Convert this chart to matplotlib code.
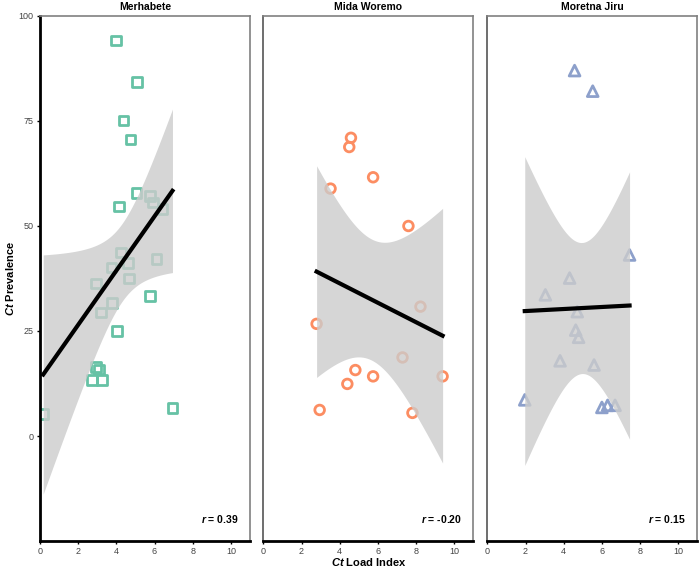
import numpy as np
import matplotlib
matplotlib.use("Agg")
import matplotlib.pyplot as plt

plt.rcParams['font.family'] = ['Liberation Sans', 'DejaVu Sans']
plt.rcParams['mathtext.fontset'] = 'custom'
plt.rcParams['mathtext.it'] = 'Liberation Sans:italic:bold'
plt.rcParams['mathtext.rm'] = 'Liberation Sans:bold'

# Merhabete
x_merhabete = [0.17, 3.98, 5.07, 4.38, 4.74, 5.05, 5.75, 5.92, 6.42, 4.15, 4.24, 3.75, 4.62,
               6.11, 4.65, 2.95, 3.78, 3.21, 5.75, 4.04, 2.95, 3.10, 2.74, 3.25, 6.94]
y_merhabete = [5.2, 94.2, 84.3, 75.1, 70.6, 57.9, 57.1, 55.6, 54.0, 54.6, 43.7, 40.1, 41.2,
               42.2, 37.5, 36.3, 31.6, 29.4, 33.3, 25.0, 16.5, 15.8, 13.3, 13.3, 6.6]
# Mida Woremo
x_mida = [4.59, 4.50, 5.75, 3.52, 7.60, 8.23, 2.79, 7.29, 4.82, 5.75, 9.39, 4.40, 2.95, 7.81]
y_mida = [71.0, 68.8, 61.6, 58.9, 50.0, 30.8, 26.7, 18.7, 15.7, 14.2, 14.2, 12.4, 6.2, 5.5]
# Moretna Jiru
x_moretna = [4.57, 5.52, 7.45, 4.31, 3.04, 4.71, 4.63, 4.78, 3.81, 5.59, 1.96, 6.00, 6.30, 6.69]
y_moretna = [87.0, 82.1, 43.1, 37.6, 33.6, 29.6, 25.2, 23.5, 17.9, 16.9, 8.6, 6.8, 7.3, 7.3]

sites = ["Merhabete", "Mida Woremo", "Moretna Jiru"]
r_labels = ["0.39", "-0.20", "0.15"]
colors = ["#66c2a5", "#fc8d62", "#8da0cb"]
markers = ["s", "o", "^"]
xs = [x_merhabete, x_mida, x_moretna]
ys = [y_merhabete, y_mida, y_moretna]


def t_crit(df):
    try:
        from scipy import stats
        return stats.t.ppf(0.975, df)
    except ImportError:
        table = {12: 2.179, 23: 2.069}
        return table.get(df, 2.1)


def fit_band(x, y, n_grid=100):
    x = np.asarray(x); y = np.asarray(y)
    n = len(x)
    b, a = np.polyfit(x, y, 1)
    grid = np.linspace(x.min(), x.max(), n_grid)
    resid = y - (a + b * x)
    s = np.sqrt(np.sum(resid ** 2) / (n - 2))
    sxx = np.sum((x - x.mean()) ** 2)
    se = s * np.sqrt(1 / n + (grid - x.mean()) ** 2 / sxx)
    fit = a + b * grid
    t = t_crit(n - 2)
    return grid, fit, fit - t * se, fit + t * se


fig = plt.figure(figsize=(7, 5.69), dpi=100)
lefts = [0.0571, 0.3762, 0.6962]
w, bot, h = 0.30, 0.0492, 0.9227
axes = []
for i in range(3):
    ax = fig.add_axes([lefts[i], bot, w, h])
    axes.append(ax)
    ax.scatter(xs[i], ys[i], marker=markers[i], facecolors='none', edgecolors=colors[i],
               s=48 if markers[i] != '^' else 60, linewidths=2, zorder=2)
    g, f, lo, hi = fit_band(xs[i], ys[i])
    ax.fill_between(g, lo, hi, color='#cccccc', alpha=0.8, linewidth=0, zorder=3)
    ax.plot(g, f, color='black', lw=3, zorder=4)
    ax.set_xlim(0, 11)
    ax.set_ylim(-25, 100)
    ax.set_xticks([0, 2, 4, 6, 8, 10])
    ax.set_yticks([0, 25, 50, 75, 100])
    ax.set_title(sites[i], fontsize=7.5, fontweight='bold', pad=4)
    ax.text(0.945, 0.03, r'$r$ = ' + r_labels[i], transform=ax.transAxes, ha='right',
            va='bottom', fontsize=7.5, fontweight='bold')
    ax.tick_params(axis='both', labelsize=6.5, labelcolor='#444444', length=2.5, width=1, pad=2)
    for side in ['top', 'right']:
        ax.spines[side].set_color('#808080')
        ax.spines[side].set_linewidth(1.2)
    ax.spines['bottom'].set_color('black')
    ax.spines['bottom'].set_linewidth(2)
    if i == 0:
        ax.spines['left'].set_color('black')
        ax.spines['left'].set_linewidth(2)
        ax.set_ylabel(r'$Ct$ Prevalence', fontsize=8, fontweight='bold', va='center')
    else:
        ax.spines['left'].set_color('#555555')
        ax.spines['left'].set_linewidth(1.2)
        ax.tick_params(axis='y', left=False, labelleft=False)

axes[1].set_xlabel(r'$Ct$ Load Index', fontsize=8, fontweight='bold', labelpad=0)
axes[0].yaxis.set_label_coords(-0.145, 0.5)

fig.savefig("out.png", dpi=100)
